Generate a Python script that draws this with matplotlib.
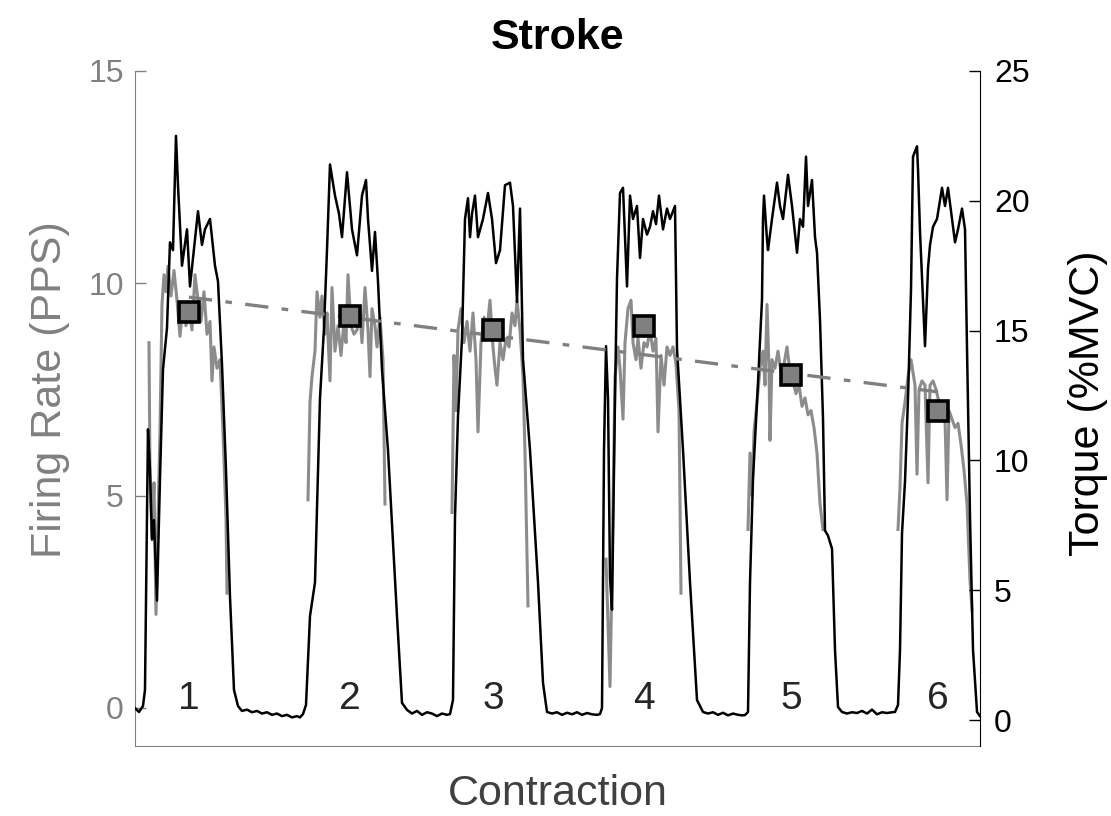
import numpy as np
import matplotlib
matplotlib.use('Agg')
import matplotlib.pyplot as plt

plt.rcParams['font.family'] = ['Liberation Sans', 'DejaVu Sans']

# torque trace (%MVC), time in s
torque_t = [0.0, 0.4, 0.8,
    1.0, 1.3, 1.5, 1.7, 1.9, 2.2, 2.5, 2.8, 3.2, 3.5, 3.8, 4.1, 4.3, 4.7, 5.2, 5.5, 5.8, 6.3, 6.7, 7.0, 7.5, 8.0, 8.3, 8.7, 9.1, 9.5, 9.9, 10.3, 10.7,
    11.2, 11.7, 12.2, 12.7, 13.2, 13.7, 14.2, 14.7, 15.2, 15.7, 16.2, 16.5,
    16.8, 17.1, 17.5, 18.0, 18.5, 18.9, 19.2, 19.5, 20.0, 20.4, 20.7, 21.2, 21.7, 22.2, 22.7, 23.1, 23.3, 23.7, 24.0, 24.3, 24.7, 25.3, 26.2, 26.7, 27.2,
    27.7, 28.2, 28.7, 29.2, 29.7, 30.2, 30.7, 31.2,
    31.5, 31.8, 32.0, 32.3, 32.7, 33.0, 33.3, 33.5, 33.7, 34.0, 34.3, 34.8, 35.3, 35.7, 36.1, 36.5, 37.0, 37.5, 37.8, 38.2, 38.5, 38.8, 39.5, 40.3, 40.8, 41.2,
    41.7, 42.2, 42.7, 43.2, 43.7, 44.2, 44.7, 45.2, 45.7, 46.2,
    46.5, 46.7, 46.9, 47.1, 47.3, 47.5, 47.7, 48.0, 48.2, 48.5, 48.8, 49.2, 49.5, 49.8, 50.2, 50.5, 50.8, 51.2, 51.5, 51.8, 52.1, 52.4, 52.8, 53.2, 53.5, 54.0, 54.2, 54.8, 55.5, 56.2, 56.8,
    57.3, 57.8, 58.3, 58.8, 59.3, 59.8, 60.3, 60.7,
    61.0, 61.3, 61.5, 61.8, 62.3, 62.7, 62.8, 62.9, 63.2, 63.3, 63.7, 64.2, 64.5, 64.8, 65.3, 65.7, 66.2, 66.5, 66.8, 67.1, 67.3, 67.7, 68.0, 68.2, 68.5, 68.8, 69.0, 69.3, 69.7, 70.0, 70.3, 70.7,
    71.2, 71.7, 72.2, 72.7, 73.2, 73.7, 74.2, 74.7, 75.2, 75.7,
    76.0, 76.3, 76.5, 76.7, 77.0, 77.3, 77.6, 77.8, 78.2, 78.3, 78.5, 78.8, 79.0, 79.3, 79.5, 79.8, 80.2, 80.7, 81.0, 81.3, 81.7, 82.0, 82.3, 82.7, 83.0, 83.2, 83.5, 83.8, 84.2, 84.5]
torque_v = [0.46, 0.31, 0.54,
    1.16, 11.2, 9.65, 6.95, 7.7, 4.6, 9.3, 13.5, 15.1, 18.4, 18.1, 22.5, 20.6, 17.5, 18.9, 16.7, 17.8, 19.6, 18.3, 18.9, 19.3, 17.5, 16.9, 13.7, 9.65, 4.75, 1.16, 0.54, 0.35,
    0.4, 0.3, 0.35, 0.25, 0.3, 0.2, 0.25, 0.15, 0.2, 0.1, 0.15, 0.1,
    0.23, 0.58, 4.0, 5.3, 12.4, 15.1, 18.1, 21.4, 20.2, 19.5, 18.6, 21.1, 18.9, 17.9, 20.2, 20.8, 19.3, 17.3, 18.8, 16.9, 13.5, 10.4, 4.0, 0.66, 0.39,
    0.25, 0.35, 0.2, 0.3, 0.25, 0.15, 0.25, 0.2,
    0.23, 0.77, 7.8, 11.7, 14.7, 19.3, 20.1, 18.6, 19.5, 20.2, 18.6, 19.3, 20.3, 19.3, 17.6, 18.1, 20.6, 20.7, 19.8, 16.1, 19.7, 13.9, 10.4, 5.3, 1.43, 0.31,
    0.25, 0.3, 0.2, 0.28, 0.22, 0.3, 0.2, 0.27, 0.22, 0.2,
    0.23, 0.46, 10.4, 14.4, 12.4, 5.5, 4.25, 12.4, 17.0, 20.3, 20.5, 16.7, 20.2, 19.3, 19.8, 17.8, 19.3, 18.7, 19.0, 19.6, 19.1, 20.2, 18.9, 19.7, 19.3, 19.8, 14.3, 10.4, 5.3, 0.77, 0.31,
    0.25, 0.3, 0.2, 0.28, 0.18, 0.25, 0.2, 0.18,
    0.19, 0.31, 5.3, 9.3, 13.0, 16.2, 19.3, 20.2, 18.5, 18.1, 19.3, 20.7, 19.8, 19.3, 21.0, 19.8, 18.0, 19.3, 19.0, 21.7, 19.8, 20.8, 18.6, 18.0, 15.4, 11.6, 7.3, 7.1, 6.6, 2.7, 0.5, 0.31,
    0.25, 0.3, 0.27, 0.35, 0.25, 0.4, 0.22, 0.3, 0.27, 0.3,
    0.31, 0.58, 2.7, 7.2, 9.2, 12.4, 16.6, 21.7, 22.1, 21.2, 18.8, 16.1, 14.4, 17.4, 18.3, 19.0, 19.3, 20.5, 19.8, 20.5, 19.3, 18.4, 18.9, 19.7, 18.9, 14.3, 7.8, 2.7, 0.31, 0.15]

# motor unit firing rate (PPS) during each contraction
fr_t = [
    [1.4, 1.5, 1.7, 1.9, 2.1, 2.3, 2.5, 2.7, 2.9, 3.1, 3.3, 3.6, 3.9, 4.2, 4.5, 4.8, 5.1, 5.4, 5.7, 6.0, 6.3, 6.6, 6.9, 7.2, 7.5, 7.7, 7.9, 8.2, 8.5, 8.8, 9.1, 9.2],
    [17.3, 17.5, 17.7, 18.0, 18.2, 18.5, 18.7, 19.0, 19.2, 19.5, 19.7, 20.0, 20.3, 20.6, 20.9, 21.1, 21.3, 21.6, 21.9, 22.2, 22.5, 22.7, 23.0, 23.3, 23.5, 23.7, 24.0, 24.2, 24.5, 24.8, 25.0],
    [31.7, 31.9, 32.1, 32.3, 32.6, 32.9, 33.2, 33.5, 33.8, 34.1, 34.3, 34.6, 34.9, 35.2, 35.5, 35.8, 36.0, 36.2, 36.5, 36.8, 37.1, 37.4, 37.7, 38.0, 38.2, 38.5, 38.8, 39.0, 39.3],
    [47.1, 47.3, 47.5, 47.7, 48.0, 48.3, 48.5, 48.8, 49.0, 49.3, 49.6, 49.8, 50.1, 50.3, 50.6, 50.9, 51.2, 51.5, 51.8, 52.1, 52.3, 52.6, 52.9, 53.2, 53.5, 53.8, 54.1, 54.4, 54.6],
    [61.3, 61.5, 61.7, 61.9, 62.2, 62.5, 62.8, 63.0, 63.2, 63.4, 63.5, 63.7, 64.0, 64.3, 64.6, 64.9, 65.2, 65.5, 65.8, 66.1, 66.4, 66.7, 67.0, 67.3, 67.6, 67.9, 68.2, 68.5, 68.8],
    [76.3, 76.5, 76.7, 77.0, 77.3, 77.6, 77.8, 78.0, 78.2, 78.4, 78.7, 79.0, 79.3, 79.5, 79.8, 80.1, 80.4, 80.7, 81.0, 81.2, 81.4, 81.7, 82.0, 82.3, 82.6, 82.9, 83.2, 83.5, 83.7]]
fr_v = [
    [8.6, 5.5, 4.0, 5.3, 2.2, 4.4, 6.5, 9.5, 10.2, 9.8, 10.4, 9.7, 10.3, 9.6, 8.75, 9.5, 9.0, 9.4, 8.9, 10.2, 9.6, 9.1, 9.8, 8.8, 9.1, 7.7, 8.5, 8.0, 8.2, 6.5, 4.5, 2.7],
    [4.9, 7.2, 7.8, 8.4, 9.8, 9.2, 9.7, 8.8, 9.3, 7.7, 9.9, 8.4, 9.0, 8.3, 9.1, 8.6, 10.2, 9.0, 8.8, 8.9, 9.3, 8.6, 9.9, 8.9, 7.8, 9.4, 9.0, 8.5, 9.2, 8.2, 4.8],
    [4.6, 8.3, 7.0, 8.9, 9.4, 8.6, 9.1, 8.4, 9.3, 8.2, 6.5, 8.6, 9.2, 8.9, 9.6, 8.5, 8.0, 7.6, 8.6, 8.2, 8.7, 8.5, 9.3, 9.0, 9.6, 8.9, 7.8, 6.0, 2.4],
    [3.5, 2.0, 0.5, 3.2, 7.8, 8.5, 8.0, 6.8, 8.6, 9.4, 9.6, 8.6, 8.2, 8.7, 8.0, 8.6, 8.5, 8.9, 8.4, 8.7, 6.5, 8.3, 7.6, 8.5, 8.3, 8.5, 8.1, 7.0, 2.7],
    [4.2, 6.0, 5.0, 6.5, 7.2, 8.0, 8.4, 7.6, 9.5, 8.0, 6.3, 8.2, 8.0, 8.4, 7.9, 8.1, 8.5, 7.9, 7.7, 7.4, 7.6, 7.1, 7.3, 6.9, 7.0, 6.6, 6.0, 4.8, 4.2],
    [4.2, 5.2, 6.7, 7.2, 7.8, 8.2, 7.9, 7.6, 5.5, 7.5, 7.7, 7.6, 5.3, 7.6, 7.7, 7.5, 7.2, 7.1, 6.8, 4.9, 7.0, 6.8, 6.6, 6.7, 6.2, 5.6, 4.8, 3.0, 2.3]]

# mean firing rate per contraction
contraction = ['1', '2', '3', '4', '5', '6']
mean_t = [5.4, 21.5, 35.8, 50.9, 65.6, 80.3]
mean_fr = [9.32, 9.22, 8.89, 8.99, 7.85, 7.0]

gray = (0.55, 0.55, 0.55)
axgray = (0.5, 0.5, 0.5)

fig = plt.figure(figsize=(11.11, 8.16), dpi=100)
ax = fig.add_axes([0.1215, 0.0858, 0.7606, 0.8272])
ax2 = ax.twinx()

for i in range(len(fr_t)):
    ax.plot(fr_t[i], fr_v[i], color=gray, linewidth=2.2)

ax2.plot(torque_t, torque_v, color='black', linewidth=1.8)

# regression through the means, drawn on top using the left (PPS) scale
coef = np.polyfit(mean_t, mean_fr, 1)
fit_x = np.array([mean_t[0], mean_t[-1]])
ax2.plot(fit_x, np.polyval(coef, fit_x), transform=ax.transData, color=(0.5, 0.5, 0.5),
         linestyle='-.', linewidth=2.4, dashes=(7, 4, 2, 4))
ax2.plot(mean_t, mean_fr, transform=ax.transData, linestyle='none', marker='s', markersize=15,
         markerfacecolor=(0.5, 0.5, 0.5), markeredgecolor='black', markeredgewidth=2.6)

for i in range(len(contraction)):
    ax.text(mean_t[i], 0.2, contraction[i], ha='center', va='center', fontsize=28, color=(0.15, 0.15, 0.15))

ax.set_xlim(0, 84.5)
ax.set_ylim(-0.9, 15)
ax2.set_ylim(-1, 25)
ax.set_xticks([])
ax.set_yticks([0, 5, 10, 15])
ax2.set_yticks([0, 5, 10, 15, 20, 25])

ax.tick_params(axis='y', direction='in', length=8, width=1, colors=axgray, labelsize=23, pad=8)
ax2.tick_params(axis='y', direction='in', length=8, width=1, colors='black', labelsize=23, pad=10)

for a in [ax, ax2]:
    a.spines['top'].set_visible(False)
ax.spines['left'].set_color(axgray)
ax.spines['bottom'].set_color(axgray)
ax2.spines['left'].set_visible(False)
ax2.spines['bottom'].set_visible(False)
ax2.spines['right'].set_color('black')
ax.spines['right'].set_visible(False)

fig.text(50 / 1111., 1 - 390 / 816., 'Firing Rate (PPS)', rotation=90, ha='center', va='center', fontsize=31, color=axgray)
fig.text(1088 / 1111., 1 - 403 / 816., 'Torque (%MVC)', rotation=90, ha='center', va='center', fontsize=31, color='black')
fig.text(0.5 * (135 + 980) / 1111., 1 - 794 / 816., 'Contraction', ha='center', va='center', fontsize=31, color=(0.25, 0.25, 0.25))
fig.text(0.5 * (135 + 980) / 1111., 1 - 38 / 816., 'Stroke', ha='center', va='center', fontsize=31, fontweight='bold', color='black')

fig.savefig('out.png', dpi=100)
